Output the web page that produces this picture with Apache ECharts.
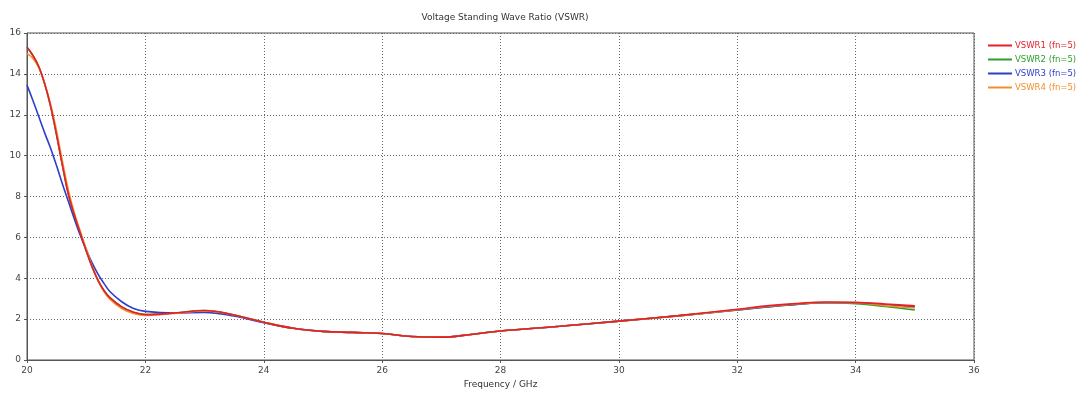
<!DOCTYPE html>
<html><head><meta charset="utf-8">
<script src="https://cdn.jsdelivr.net/npm/echarts@6/dist/echarts.min.js"></script>
<style>html,body{margin:0;padding:0;background:#fff}#c{width:1084px;height:394px}</style>
</head><body><div id="c"></div>
<script>
const freq  = [20, 20.1, 20.2, 20.3, 20.4, 20.5, 20.6, 20.7, 20.8, 20.9, 21, 21.1, 21.2, 21.3, 21.4, 21.6, 21.8, 22, 22.5, 23, 23.5, 24, 24.5, 25, 25.5, 26, 26.5, 27, 27.5, 28, 29, 30, 31, 32, 32.5, 33, 33.5, 34, 34.5, 35];
const vswr1 = [15.3, 14.9, 14.35, 13.5, 12.4, 11.0, 9.5, 8.1, 7.1, 6.2, 5.35, 4.55, 3.9, 3.4, 3.05, 2.6, 2.34, 2.22, 2.3, 2.42, 2.2, 1.85, 1.55, 1.4, 1.35, 1.3, 1.15, 1.12, 1.25, 1.42, 1.65, 1.9, 2.17, 2.48, 2.65, 2.76, 2.84, 2.82, 2.74, 2.65];
const vswr2 = [15.3, 14.9, 14.35, 13.5, 12.4, 11.0, 9.5, 8.1, 7.1, 6.2, 5.35, 4.55, 3.9, 3.4, 3.05, 2.6, 2.34, 2.22, 2.3, 2.42, 2.2, 1.85, 1.55, 1.4, 1.35, 1.3, 1.15, 1.12, 1.25, 1.42, 1.65, 1.9, 2.16, 2.45, 2.6, 2.72, 2.8, 2.76, 2.62, 2.45];
const vswr3 = [13.45, 12.7, 11.9, 11.1, 10.35, 9.5, 8.6, 7.75, 6.9, 6.1, 5.4, 4.75, 4.2, 3.75, 3.35, 2.85, 2.52, 2.38, 2.3, 2.33, 2.15, 1.82, 1.55, 1.4, 1.35, 1.3, 1.15, 1.12, 1.25, 1.42, 1.65, 1.9, 2.16, 2.45, 2.6, 2.72, 2.8, 2.8, 2.7, 2.6];
const vswr4 = [15.0, 14.75, 14.3, 13.5, 12.5, 11.2, 9.7, 8.3, 7.2, 6.3, 5.45, 4.6, 3.9, 3.35, 2.98, 2.52, 2.28, 2.18, 2.28, 2.4, 2.2, 1.85, 1.55, 1.4, 1.35, 1.3, 1.15, 1.12, 1.25, 1.42, 1.65, 1.9, 2.16, 2.46, 2.62, 2.74, 2.82, 2.8, 2.66, 2.55];
const names  = ['VSWR1 (fn=5)', 'VSWR2 (fn=5)', 'VSWR3 (fn=5)', 'VSWR4 (fn=5)'];
const colors = ['#e4202a', '#2ca02c', '#2b3fc8', '#f0902a'];
const xTicks = [20, 22, 24, 26, 28, 30, 32, 34, 36];
const yTicks = [0, 2, 4, 6, 8, 10, 12, 14, 16];

const all = [vswr1, vswr2, vswr3, vswr4];
const zs = [4, 1, 2, 3];
const chart = echarts.init(document.getElementById('c'));
chart.setOption({
  animation: false,
  backgroundColor: '#fff',
  title: { text: 'Voltage Standing Wave Ratio (VSWR)', left: 500, top: 8, textAlign: 'center',
    textStyle: { fontSize: 9, fontWeight: 'normal', color: '#333', fontFamily: 'DejaVu Sans' } },
  legend: {
    orient: 'vertical', left: 983, top: 36, itemWidth: 24, itemHeight: 2, itemGap: 5,
    icon: 'rect',
    data: names.map((n, i) => ({ name: n, textStyle: { color: colors[i] } })),
    textStyle: { fontSize: 8.5, fontFamily: 'DejaVu Sans', padding: [0, 0, 0, -2] }
  },
  grid: { left: 27, right: 110, top: 33, bottom: 33, show: true, borderColor: '#555', borderWidth: 1, backgroundColor: 'transparent' },
  xAxis: {
    type: 'value', min: xTicks[0], max: xTicks[xTicks.length - 1], interval: 2,
    name: 'Frequency / GHz', nameLocation: 'middle', nameGap: 20,
    nameTextStyle: { fontSize: 9, color: '#333', fontFamily: 'DejaVu Sans' },
    axisLine: { lineStyle: { color: '#555' } },
    axisTick: { length: 3, lineStyle: { color: '#555' } },
    axisLabel: { fontSize: 9, color: '#444', margin: 6, fontFamily: 'DejaVu Sans' },
    splitLine: { show: true, lineStyle: { color: '#666', type: [1, 2] } }
  },
  yAxis: {
    type: 'value', min: yTicks[0], max: yTicks[yTicks.length - 1], interval: 2,
    axisLine: { show: true, lineStyle: { color: '#555' } },
    axisTick: { show: true, length: 3, lineStyle: { color: '#555' } },
    axisLabel: { fontSize: 9, color: '#444', margin: 6, fontFamily: 'DejaVu Sans' },
    splitLine: { show: true, lineStyle: { color: '#666', type: [1, 2] } }
  },
  series: all.map((vals, i) => ({
    name: names[i], type: 'line', smooth: 0.4, showSymbol: false, z: zs[i],
    color: colors[i], lineStyle: { width: 1.6, color: colors[i] },
    data: freq.map((f, k) => [f, vals[k]])
  }))
});
</script></body></html>
